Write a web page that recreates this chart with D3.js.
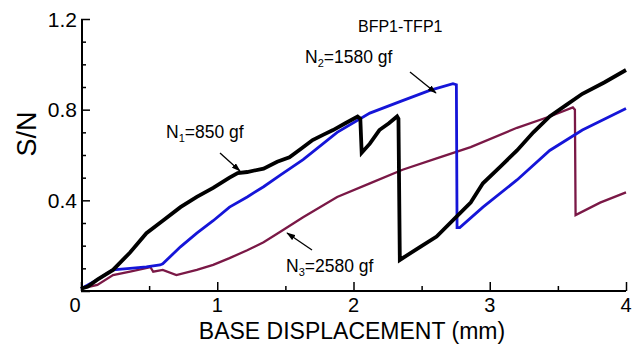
<!DOCTYPE html>
<html><head><meta charset="utf-8">
<script src="https://cdn.jsdelivr.net/npm/d3@7"></script>
<style>body{margin:0;background:#fff}svg{display:block;font-family:Arial,"Liberation Sans",sans-serif}</style>
</head><body><svg id="c" width="640" height="346"></svg>
<script>
const xTicks = [0,1,2,3,4];
const yTicks = [0.4,0.8,1.2];
const n1X = [0,0.05,0.12,0.235,0.36,0.48,0.60,0.73,0.85,0.97,1.09,1.15,1.22,1.34,1.44,1.53,1.62,1.70,1.78,1.85,1.94,2.03,2.05,2.06,2.12,2.19,2.26,2.32,2.33,2.34,2.49,2.61,2.76,2.86,2.95,3.08,3.20,3.32,3.44,3.56,3.68,3.84,4.0];
const n1Y = [0.01,0.02,0.05,0.093,0.17,0.255,0.31,0.37,0.415,0.455,0.50,0.52,0.525,0.54,0.57,0.59,0.63,0.666,0.69,0.71,0.74,0.77,0.76,0.61,0.65,0.71,0.74,0.77,0.76,0.137,0.195,0.24,0.33,0.39,0.475,0.55,0.62,0.70,0.77,0.82,0.87,0.92,0.975];
const n2X = [0,0.12,0.235,0.36,0.48,0.58,0.60,0.73,0.85,0.97,1.09,1.22,1.34,1.46,1.63,1.88,2.12,2.36,2.56,2.73,2.755,2.76,2.78,2.95,3.20,3.44,3.68,4.0];
const n2Y = [0.01,0.05,0.093,0.10,0.106,0.115,0.12,0.195,0.255,0.31,0.37,0.415,0.46,0.51,0.58,0.70,0.785,0.84,0.885,0.915,0.91,0.28,0.28,0.37,0.49,0.62,0.71,0.805];
const n3X = [0,0.12,0.235,0.36,0.51,0.53,0.60,0.70,0.85,0.97,1.09,1.22,1.34,1.46,1.63,1.88,2.12,2.36,2.61,2.86,3.20,3.44,3.61,3.625,3.63,3.81,4.0];
const n3Y = [0.01,0.027,0.07,0.085,0.105,0.085,0.093,0.07,0.093,0.115,0.145,0.18,0.215,0.26,0.325,0.415,0.475,0.535,0.585,0.635,0.72,0.77,0.81,0.80,0.335,0.39,0.435];

const svg = d3.select("#c");
const x = d3.scaleLinear().domain([0,4]).range([81,626]);
const y = d3.scaleLinear().domain([0,1.2]).range([291,19]);

const line = d3.line().x(d=>x(d[0])).y(d=>y(d[1]));
const series = [
  {xs:n3X, ys:n3Y, color:"#7a1846", w:2.3},
  {xs:n2X, ys:n2Y, color:"#1515d8", w:2.8},
  {xs:n1X, ys:n1Y, color:"#000000", w:3.8}
];
series.forEach(s=>{
  svg.append("path").datum(s.xs.map((v,i)=>[v,s.ys[i]]))
    .attr("d",line).attr("fill","none").attr("stroke",s.color)
    .attr("stroke-width",s.w).attr("stroke-linejoin","miter");
});

// axes
const xAxis = d3.axisBottom(x).tickValues(d3.range(0,4.01,0.5)).tickSize(-8).tickFormat("");
const gx = svg.append("g").attr("transform","translate(0,291)").call(xAxis);
gx.selectAll(".tick line").attr("y2",d=>Number.isInteger(d)?-9:-5);
const yAxis = d3.axisLeft(y).tickValues(d3.range(0,1.201,0.1)).tickSize(-8).tickFormat("");
const gy = svg.append("g").attr("transform","translate(81,0)").call(yAxis);
gy.selectAll(".tick line").attr("x2",(d,i)=>(i%4===0)?9:5);
[gx,gy].forEach(g=>{g.select(".domain").attr("stroke","#000").attr("stroke-width",2);
  g.selectAll(".tick line").attr("stroke","#000").attr("stroke-width",1.5);});
gy.select(".domain").attr("d","M1,19V291");
gx.select(".domain").attr("d","M81,0H626");

svg.selectAll(".xl").data(xTicks).enter().append("text")
  .attr("x",d=>x(d)+(d===0?-6:0)).attr("y",312).attr("text-anchor","middle")
  .attr("font-size",20).text(d=>d);
svg.selectAll(".yl").data(yTicks).enter().append("text")
  .attr("x",77).attr("y",d=>y(d)+7.5).attr("text-anchor","end")
  .attr("font-size",21).text(d=>d.toFixed(1));

svg.append("text").attr("x",352).attr("y",339).attr("text-anchor","middle")
  .attr("font-size",23).text("BASE DISPLACEMENT (mm)");
svg.append("text").attr("transform","translate(36,134) rotate(-90)").attr("text-anchor","middle")
  .attr("font-size",27).text("S/N");

svg.append("text").attr("x",358).attr("y",32).attr("font-size",16).text("BFP1-TFP1");
function lab(xp,yp,sub,rest){
  const t = svg.append("text").attr("x",xp).attr("y",yp).attr("font-size",17.5);
  t.append("tspan").text("N");
  t.append("tspan").attr("font-size",11).attr("dy",4).text(sub);
  t.append("tspan").attr("dy",-4).text(rest);
}
lab(166,138,"1","=850 gf");
lab(305,63,"2","=1580 gf");
lab(286,272,"3","=2580 gf");

svg.append("defs").append("marker").attr("id","ah").attr("viewBox","0 0 12 8")
  .attr("refX",11).attr("refY",4).attr("markerWidth",9).attr("markerHeight",6)
  .attr("markerUnits","userSpaceOnUse")
  .attr("orient","auto").append("path").attr("d","M0,0L12,4L0,8z").attr("fill","#000");
[[220,153,240,171],[410,72,436,93],[312,250,287,233]].forEach(a=>{
  svg.append("line").attr("x1",a[0]).attr("y1",a[1]).attr("x2",a[2]).attr("y2",a[3])
    .attr("stroke","#000").attr("stroke-width",1.3).attr("marker-end","url(#ah)");
});
</script></body></html>
